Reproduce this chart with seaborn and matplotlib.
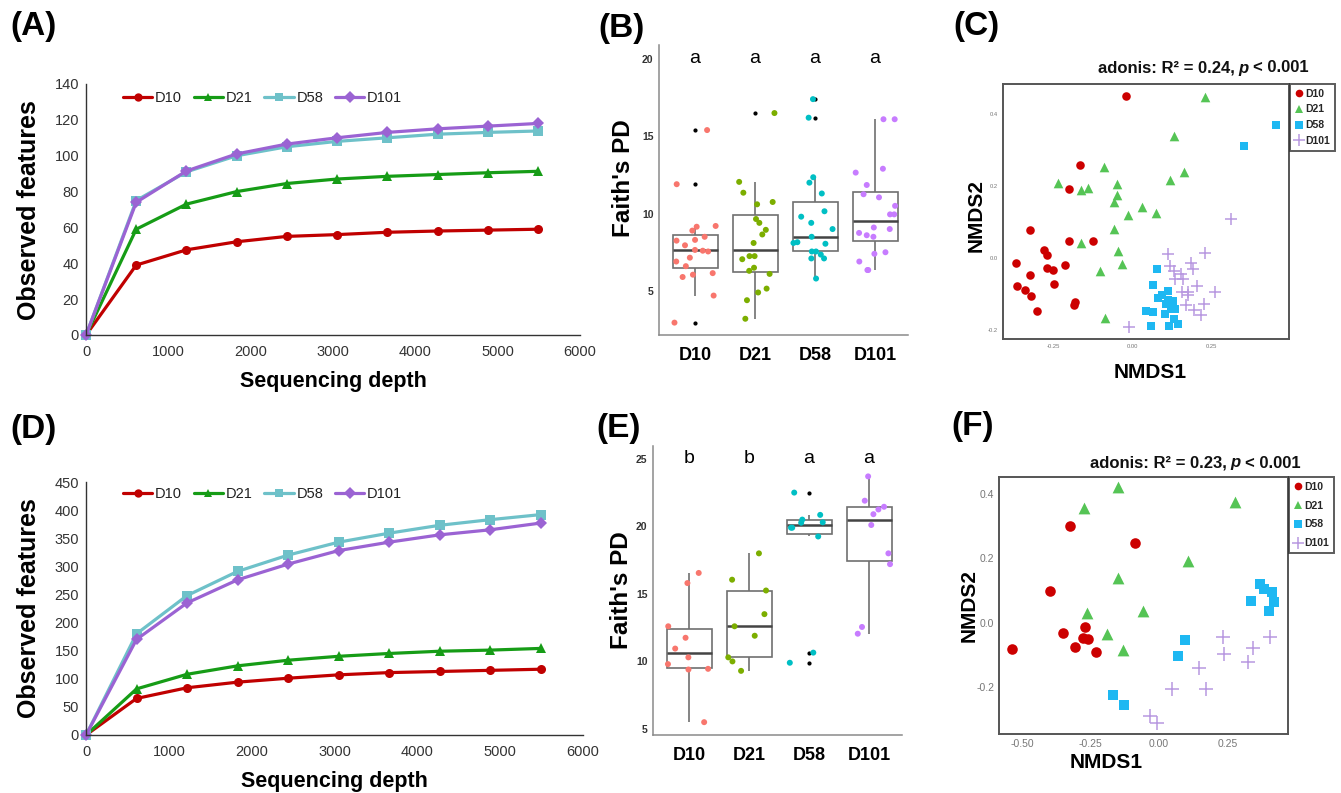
import numpy as np
import pandas as pd
import matplotlib
matplotlib.use("Agg")
import matplotlib.pyplot as plt
from matplotlib.lines import Line2D
from matplotlib.ticker import FormatStrFormatter, MultipleLocator
import seaborn as sns

# ---------------- data ----------------
groups = ["D10", "D21", "D58", "D101"]

depth = [1, 610, 1220, 1830, 2440, 3050, 3660, 4270, 4880, 5490]
# Panel A (observed features)
a_D10 = [0, 39, 47.5, 52, 55, 56, 57.3, 58, 58.5, 59]
a_D21 = [0, 59, 73, 80, 84.5, 87, 88.5, 89.5, 90.5, 91.3]
a_D58 = [0, 75, 91, 100, 105, 108, 110, 112, 113, 113.8]
a_D101 = [0, 74, 91.5, 101, 106.5, 110, 113, 115, 116.5, 118]
# Panel D (observed features)
d_D10 = [0, 65, 84, 94, 101, 107, 111, 113, 115, 117]
d_D21 = [0, 82, 108, 123, 133, 140, 145, 149, 151, 154]
d_D58 = [0, 180, 248, 291, 320, 343, 359, 373, 383, 392]
d_D101 = [0, 170, 235, 276, 304, 328, 343, 356, 365, 377]

# Panel B (Faith's PD)
b_D10 = [11.9, 15.4, 8.9, 8.5, 9.2, 9.15, 8.3, 8.25, 7.95, 7.65, 7.6, 7.55, 7.15, 6.9, 6.6, 6.15, 5.9, 6.05, 4.7, 2.95]
b_D21 = [9.4, 16.5, 11.35, 10.6, 10.75, 12.05, 9.65, 8.95, 8.65, 8.1, 7.05, 7.25, 7.25, 6.5, 6.3, 6.1, 5.15, 4.4, 4.9, 3.2]
b_D58 = [17.4, 16.2, 11.3, 12.0, 12.35, 10.15, 9.4, 9.0, 9.8, 8.05, 8.5, 7.55, 7.35, 7.55, 7.1, 8.1, 8.15, 7.1, 5.8]
b_D101 = [16.1, 16.1, 12.9, 12.65, 11.85, 11.05, 11.25, 10.5, 9.95, 9.95, 9.1, 9.0, 8.75, 8.6, 8.5, 7.5, 7.4, 6.9, 6.35, 6.35]
b_letters = ["a", "a", "a", "a"]

# Panel E (Faith's PD)
e_D10 = [10.95, 12.6, 15.8, 16.55, 11.75, 10.3, 9.8, 9.4, 9.45, 5.5]
e_D21 = [18.0, 16.05, 15.25, 13.5, 12.6, 11.9, 10.3, 10.0, 9.3]
e_D58 = [22.5, 20.85, 20.3, 20.5, 20.27, 19.9, 19.9, 19.25, 10.65, 9.9]
e_D101 = [23.7, 21.9, 21.45, 21.25, 20.9, 20.1, 18.0, 17.2, 12.55, 12.05]
e_letters = ["b", "b", "a", "a"]

# Panel C (NMDS)
c_D10_x = [-0.021, -0.166, -0.200, -0.322, -0.199, -0.123, -0.279, -0.269, -0.368, -0.211, -0.270, -0.251, -0.324, -0.365, -0.247, -0.337, -0.320, -0.181, -0.183, -0.302]
c_D10_y = [0.450, 0.258, 0.190, 0.077, 0.048, 0.048, 0.023, 0.008, -0.013, -0.019, -0.029, -0.035, -0.048, -0.077, -0.073, -0.090, -0.106, -0.122, -0.130, -0.148]
c_D21_x = [0.231, 0.132, -0.088, 0.163, 0.118, -0.235, -0.141, -0.161, -0.049, -0.048, -0.059, 0.032, 0.076, -0.012, -0.059, -0.161, -0.044, -0.032, -0.101, -0.086]
c_D21_y = [0.446, 0.337, 0.252, 0.237, 0.217, 0.207, 0.195, 0.189, 0.206, 0.173, 0.156, 0.142, 0.125, 0.119, 0.080, 0.040, 0.020, -0.016, -0.037, -0.166]
c_D58_x = [0.453, 0.353, 0.077, 0.066, 0.112, 0.094, 0.081, 0.114, 0.128, 0.107, 0.136, 0.124, 0.042, 0.065, 0.105, 0.132, 0.143, 0.059, 0.115]
c_D58_y = [0.368, 0.310, -0.031, -0.074, -0.092, -0.102, -0.111, -0.117, -0.121, -0.129, -0.141, -0.143, -0.148, -0.150, -0.157, -0.169, -0.183, -0.190, -0.188]
c_D101_x = [0.311, 0.112, 0.231, 0.120, 0.132, 0.186, 0.193, 0.153, 0.160, 0.134, 0.205, 0.158, 0.175, 0.261, 0.175, 0.171, 0.226, 0.194, 0.216, -0.011]
c_D101_y = [0.107, 0.011, 0.013, -0.023, -0.037, -0.014, -0.032, -0.045, -0.058, -0.060, -0.079, -0.096, -0.096, -0.096, -0.104, -0.130, -0.129, -0.144, -0.159, -0.192]
c_title = ("adonis: R\u00b2 = 0.24,", "p", "< 0.001")

# Panel F (NMDS)
f_D10_x = [-0.536, -0.326, -0.088, -0.398, -0.352, -0.270, -0.279, -0.261, -0.309, -0.231]
f_D10_y = [-0.083, 0.299, 0.247, 0.099, -0.033, -0.013, -0.047, -0.051, -0.076, -0.092]
f_D21_x = [-0.149, -0.276, 0.278, 0.107, -0.149, -0.262, -0.058, -0.192, -0.132]
f_D21_y = [0.421, 0.356, 0.375, 0.190, 0.139, 0.029, 0.036, -0.035, -0.087]
f_D58_x = [0.369, 0.382, 0.412, 0.336, 0.420, 0.402, 0.096, 0.068, -0.168, -0.130]
f_D58_y = [0.120, 0.104, 0.096, 0.066, 0.064, 0.036, -0.054, -0.103, -0.225, -0.258]
f_D101_x = [0.233, 0.404, 0.343, 0.237, 0.324, 0.147, 0.048, 0.172, -0.033, -0.006]
f_D101_y = [-0.044, -0.044, -0.078, -0.098, -0.123, -0.142, -0.206, -0.206, -0.291, -0.313]
f_title = ("adonis: R\u00b2 = 0.23,", "p", "< 0.001")

# ---------------- styles ----------------
line_colors = {"D10": "#C00000", "D21": "#169C16", "D58": "#6EC1C9", "D101": "#9B63D3"}
line_markers = {"D10": "o", "D21": "^", "D58": "s", "D101": "D"}
box_colors = {"D10": "#F8766D", "D21": "#7CAE00", "D58": "#00BFC4", "D101": "#C77CFF"}
pt_colors = {"D10": "#CC0000", "D21": "#55C455", "D58": "#1EB8F2", "D101": "#B898E0"}
pt_markers = {"D10": "o", "D21": "^", "D58": "s", "D101": "+"}

sns.set_theme(style="white")
plt.rcParams["font.family"] = ["Liberation Sans", "DejaVu Sans"]
plt.rcParams["axes.unicode_minus"] = False

W, H = 1341, 793
fig = plt.figure(figsize=(W / 100, H / 100), dpi=100)
fig.patch.set_facecolor("white")
boxes = {}


def add_ax(l, t, r, b):
    ax = fig.add_axes([l / W, 1 - b / H, (r - l) / W, (b - t) / H])
    boxes[ax] = (l, t, r, b)
    return ax


def set_xlabel_px(ax, text, x, y, **kw):
    l, t, r, b = boxes[ax]
    ax.set_xlabel(text, **kw)
    ax.xaxis.set_label_coords((x - l) / (r - l), (b - y) / (b - t))
    ax.xaxis.label.set_va("center")


def set_ylabel_px(ax, text, x, y, **kw):
    l, t, r, b = boxes[ax]
    ax.set_ylabel(text, **kw)
    ax.yaxis.set_label_coords((x - l) / (r - l), (b - y) / (b - t))
    ax.yaxis.label.set_va("center")
    ax.yaxis.label.set_ha("center")


def fig_text(x, y, s, **kw):
    return fig.text(x / W, 1 - y / H, s, ha="center", va="center", **kw)


# ---------------- rarefaction panels ----------------
def rarefaction(box, vals, ymax, ystep, legend_y, ylab_y, xlab_y):
    ax = add_ax(*box)
    df = pd.DataFrame({
        "depth": depth * 4,
        "obs": sum(vals, []),
        "group": np.repeat(groups, len(depth)),
    })
    sns.lineplot(data=df, x="depth", y="obs", hue="group", style="group",
                 hue_order=groups, style_order=groups, palette=line_colors,
                 markers=line_markers, dashes=False, lw=2.3, markersize=6.5,
                 markeredgewidth=0, legend=False, ax=ax)
    for ln in ax.lines:
        ln.set_clip_on(False)
    ax.set_xlim(0, 6000)
    ax.set_ylim(0, ymax)
    ax.xaxis.set_major_locator(MultipleLocator(1000))
    ax.yaxis.set_major_locator(MultipleLocator(ystep))
    sns.despine(ax=ax)
    for s in ("left", "bottom"):
        ax.spines[s].set_color("#333333")
        ax.spines[s].set_linewidth(1.0)
    ax.tick_params(direction="in", length=4, width=1, color="#333333",
                   labelsize=10.5, labelcolor="#333333", pad=5)
    ax.tick_params(axis="x", pad=7)
    set_xlabel_px(ax, "Sequencing depth", (box[0] + box[2]) / 2, xlab_y,
                  fontsize=15.5, fontweight="bold", color="black")
    set_ylabel_px(ax, "Observed features", 29, ylab_y,
                  fontsize=18, fontweight="bold", color="black")
    handles = [Line2D([], [], color=line_colors[g], marker=line_markers[g],
                      lw=2.3, ms=6, mew=0) for g in groups]
    ax.legend(handles, groups, loc="center left",
              bbox_to_anchor=(123 / W, 1 - legend_y / H),
              bbox_transform=fig.transFigure, ncol=4, frameon=False,
              fontsize=10.5, handlelength=2.0, handletextpad=0.2,
              columnspacing=0.8, borderpad=0, borderaxespad=0,
              labelcolor="#222222")
    return ax


rarefaction((86, 84, 580, 335), [a_D10, a_D21, a_D58, a_D101], 140, 20, 98, 210, 382)
rarefaction((86, 482, 583, 735), [d_D10, d_D21, d_D58, d_D101], 450, 50, 494, 608, 782)


# ---------------- box panels ----------------
def boxpanel(box, data, ylim, yticks, letters, letter_y, ylab_xy, seed):
    ax = add_ax(*box)
    df = pd.DataFrame([(g, v) for g, vals in zip(groups, data) for v in vals],
                      columns=["group", "pd"])
    sns.boxplot(data=df, x="group", y="pd", order=groups, color="white",
                width=0.75, linecolor="#707070", linewidth=1.2, fliersize=2,
                showcaps=False,
                flierprops=dict(marker="o", markerfacecolor="black",
                                markeredgecolor="black", markersize=2),
                medianprops=dict(color="#444444", linewidth=1.8), ax=ax)
    np.random.seed(seed)
    sns.stripplot(data=df, x="group", y="pd", order=groups, hue="group",
                  hue_order=groups, palette=box_colors, jitter=0.36, size=4.3,
                  linewidth=0, legend=False, ax=ax, zorder=3)
    ax.set_xlim(-0.6, 3.55)
    ax.set_ylim(*ylim)
    ax.set_yticks(yticks)
    for i, t in enumerate(letters):
        ax.text(i, letter_y, t, ha="center", va="center", fontsize=14, color="black")
    sns.despine(ax=ax)
    for s in ("left", "bottom"):
        ax.spines[s].set_color("#8A8A8A")
        ax.spines[s].set_linewidth(1.1)
    ax.tick_params(axis="both", direction="out", length=2.5, width=0.8, color="#8A8A8A")
    ax.tick_params(axis="y", labelsize=7.5, labelcolor="#333333", pad=1.5)
    ax.tick_params(axis="x", labelsize=13, labelcolor="black", pad=6)
    for lab in ax.get_yticklabels() + ax.get_xticklabels():
        lab.set_fontweight("bold")
    ax.set_xlabel("")
    set_ylabel_px(ax, "Faith's PD", ylab_xy[0], ylab_xy[1],
                  fontsize=17.5, fontweight="bold", color="black")
    return ax


boxpanel((659, 45, 908, 335), [b_D10, b_D21, b_D58, b_D101], (2.15, 20.9),
         [5, 10, 15, 20], b_letters, 20.0, (624, 178), 7)
boxpanel((653, 446, 902, 735), [e_D10, e_D21, e_D58, e_D101], (4.55, 25.95),
         [5, 10, 15, 20, 25], e_letters, 25.0, (621, 590), 11)


# ---------------- NMDS panels ----------------
def rich_title(xc, yc, parts, size=12):
    renderer = fig.canvas.get_renderer()
    styles = ["normal", "italic", "normal"]
    gap = 4
    texts, widths = [], []
    for s, st in zip(parts, styles):
        t = fig.text(0, 0, s, fontsize=size, fontweight="bold", fontstyle=st,
                     ha="left", va="center", color="#111111")
        widths.append(t.get_window_extent(renderer).width)
        texts.append(t)
    total = sum(widths) + gap * (len(parts) - 1)
    x = xc - total / 2
    for t, w in zip(texts, widths):
        t.set_position((x / W, 1 - yc / H))
        x += w + gap


def nmds(box, xs, ys, xlim, ylim, xticks, yticks, sizes, ticksize, title,
         title_xy, legend_box, label_spacing, xlab_xy, ylab_xy):
    ax = add_ax(*box)
    for g in groups:
        kw = dict(linewidth=1.1) if g == "D101" else dict(linewidth=0)
        sns.scatterplot(x=xs[g], y=ys[g], marker=pt_markers[g], color=pt_colors[g],
                        s=sizes[g], ax=ax, legend=False, **kw)
    ax.set_xlim(*xlim)
    ax.set_ylim(*ylim)
    ax.set_xticks(xticks)
    ax.set_yticks(yticks)
    ax.xaxis.set_major_formatter(FormatStrFormatter("%.2f"))
    ax.yaxis.set_major_formatter(FormatStrFormatter("%.1f"))
    for s in ax.spines.values():
        s.set_visible(True)
        s.set_color("#555555")
        s.set_linewidth(1.4)
    ax.tick_params(direction="out", length=2, width=0.7, color="#888888",
                   labelsize=ticksize, labelcolor="#777777", pad=1.5)
    set_xlabel_px(ax, "NMDS1", xlab_xy[0], xlab_xy[1], fontsize=15, fontweight="bold", color="black")
    set_ylabel_px(ax, "NMDS2", ylab_xy[0], ylab_xy[1], fontsize=15, fontweight="bold", color="black")
    handles = []
    for g in groups:
        if g == "D101":
            handles.append(Line2D([], [], ls="none", marker="+", color=pt_colors[g], ms=8, mew=1.1))
        else:
            handles.append(Line2D([], [], ls="none", marker=pt_markers[g], color=pt_colors[g], ms=5.5, mew=0))
    leg = ax.legend(handles, groups, loc="upper left",
                    bbox_to_anchor=(legend_box[0] / W, 1 - legend_box[1] / H),
                    bbox_transform=fig.transFigure, frameon=True, fancybox=False,
                    edgecolor="#333333", borderpad=0.45, handlelength=0.8,
                    handletextpad=0.25, labelspacing=label_spacing, borderaxespad=0,
                    prop=dict(weight="bold", size=7.5))
    leg.get_frame().set_linewidth(1.4)
    rich_title(title_xy[0], title_xy[1], title)
    return ax


nmds((1003, 84, 1289, 339),
     {"D10": c_D10_x, "D21": c_D21_x, "D58": c_D58_x, "D101": c_D101_x},
     {"D10": c_D10_y, "D21": c_D21_y, "D58": c_D58_y, "D101": c_D101_y},
     (-0.408, 0.495), (-0.225, 0.482), [-0.25, 0.0, 0.25], [-0.2, 0.0, 0.2, 0.4],
     {"D10": 38, "D21": 48, "D58": 34, "D101": 70}, 4.2, c_title, (1203, 68),
     (1290, 84), 0.55, (1150, 372), (976, 215))

nmds((999, 477, 1288, 734),
     {"D10": f_D10_x, "D21": f_D21_x, "D58": f_D58_x, "D101": f_D101_x},
     {"D10": f_D10_y, "D21": f_D21_y, "D58": f_D58_y, "D101": f_D101_y},
     (-0.585, 0.471), (-0.347, 0.453), [-0.5, -0.25, 0.0, 0.25], [-0.2, 0.0, 0.2, 0.4],
     {"D10": 58, "D21": 72, "D58": 56, "D101": 110}, 7.5, f_title, (1195, 463),
     (1289, 477), 0.85, (1106, 763), (969, 605))

# ---------------- panel letters ----------------
for lab, x, y in [("(A)", 33, 27), ("(B)", 621, 28), ("(C)", 976, 26),
                  ("(D)", 33, 429), ("(E)", 619, 428), ("(F)", 973, 427)]:
    fig_text(x, y, lab, fontsize=24, fontweight="bold", color="black")

fig.savefig("out.png", dpi=100, facecolor="white")
